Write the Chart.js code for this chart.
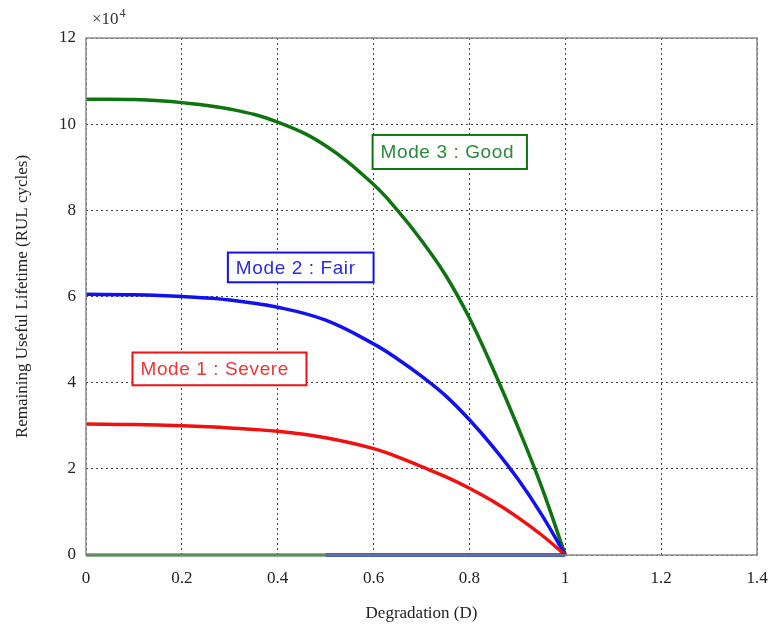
<!DOCTYPE html>
<html>
<head>
<meta charset="utf-8">
<script src="https://cdn.jsdelivr.net/npm/chart.js@4"></script>
<style>
  html, body { margin: 0; padding: 0; background: #fff; }
  #wrap { width: 773px; height: 634px; }
</style>
</head>
<body>
<div id="wrap"><canvas id="rulChart" width="773" height="634"></canvas></div>
<script>
// valores (RUL em unidades de 10^4 ciclos)
const degradation = [0, 0.1, 0.2, 0.3, 0.4, 0.5, 0.6, 0.65, 0.7, 0.75, 0.8, 0.85, 0.9, 0.95, 1.0];
const modeSevere = [3.04, 3.03, 3.0, 2.95, 2.87, 2.72, 2.47, 2.28, 2.05, 1.82, 1.55, 1.24, 0.88, 0.47, 0];
const modeFair   = [6.05, 6.04, 6.0, 5.92, 5.75, 5.45, 4.9, 4.55, 4.15, 3.7, 3.14, 2.5, 1.78, 0.95, 0];
const modeGood   = [10.58, 10.57, 10.5, 10.35, 10.05, 9.5, 8.6, 8.0, 7.3, 6.5, 5.5, 4.3, 3.0, 1.6, 0];
const xTicks = [0, 0.2, 0.4, 0.6, 0.8, 1, 1.2, 1.4];
const yTicks = [0, 2, 4, 6, 8, 10, 12];

const modeLabels = ["Mode 1 : Severe", "Mode 2 : Fair", "Mode 3 : Good"];
const modeColors = ["#f01010", "#1010f0", "#0f730f"];
const textColors = ["#e83838", "#2a2ae0", "#2a8a3a"];
// caixas dos rótulos (em coordenadas de dados: x0, x1, yTop, yBottom)
const labelBoxes = [
  [0.097, 0.46, 4.70, 3.94],
  [0.296, 0.60, 7.02, 6.33],
  [0.598, 0.92, 9.75, 8.96]
];

const pts = (xs, ys) => xs.map((x, i) => ({ x: x, y: ys[i] }));

const serif = "'Liberation Serif', 'Times New Roman', serif";

// rótulos com caixa + ×10^4 + moldura
const extras = {
  id: "extras",
  afterDatasetsDraw(chart) {
    const c = chart.ctx;
    const xs = chart.scales.x, ys = chart.scales.y;
    const a = chart.chartArea;

    // moldura
    c.save();
    c.strokeStyle = "#8a8a8a";
    c.lineWidth = 1.5;
    c.strokeRect(a.left, a.top, a.right - a.left, a.bottom - a.top);
    c.restore();

    labelBoxes.forEach((b, i) => {
      const x0 = xs.getPixelForValue(b[0]), x1 = xs.getPixelForValue(b[1]);
      const y0 = ys.getPixelForValue(b[2]), y1 = ys.getPixelForValue(b[3]);
      c.save();
      c.fillStyle = "#fff";
      c.fillRect(x0, y0, x1 - x0, y1 - y0);
      c.strokeStyle = modeColors[i];
      c.lineWidth = 2;
      c.strokeRect(x0, y0, x1 - x0, y1 - y0);
      c.fillStyle = textColors[i];
      c.font = "19px 'Liberation Sans', Arial, sans-serif";
      c.letterSpacing = "0.6px";
      c.textBaseline = "middle";
      c.fillText(modeLabels[i], x0 + 8, (y0 + y1) / 2 + 1);
      c.restore();
    });

    c.save();
    c.fillStyle = "#333";
    c.font = "17px " + serif;
    c.textBaseline = "alphabetic";
    c.fillText("\u00d710", a.left + 6, 24);
    const w = c.measureText("\u00d710").width;
    c.font = "12px " + serif;
    c.fillText("4", a.left + 6 + w + 1, 17);
    c.restore();
  }
};

new Chart(document.getElementById("rulChart"), {
  type: "scatter",
  data: {
    datasets: [
      { data: pts([0.5, 1.0], [0, 0]), borderColor: modeColors[1], borderWidth: 3, showLine: true, pointRadius: 0 },
      { data: pts([0, 1.0], [0, 0]), borderColor: modeColors[2], borderWidth: 3, showLine: true, pointRadius: 0 },
      { label: modeLabels[0], data: pts(degradation, modeSevere), borderColor: modeColors[0], borderWidth: 3.5, showLine: true, pointRadius: 0, tension: 0.4 },
      { label: modeLabels[1], data: pts(degradation, modeFair), borderColor: modeColors[1], borderWidth: 3.5, showLine: true, pointRadius: 0, tension: 0.4 },
      { label: modeLabels[2], data: pts(degradation, modeGood), borderColor: modeColors[2], borderWidth: 3.5, showLine: true, pointRadius: 0, tension: 0.4 }
    ]
  },
  options: {
    responsive: false,
    animation: false,
    clip: false,
    layout: { padding: { top: 38, right: 16, left: 8, bottom: 0 } },
    plugins: { legend: { display: false }, tooltip: { enabled: false } },
    scales: {
      x: {
        type: "linear",
        min: 0, max: 1.4,
        afterBuildTicks: s => { s.ticks = xTicks.map(v => ({ value: v })); },
        afterFit: s => { s.height = 79; s.paddingLeft = 0; s.paddingRight = 0; },
        grid: { color: "#444", lineWidth: 1, drawTicks: false },
        border: { display: false, dash: [2, 3] },
        ticks: { color: "#222", font: { family: serif, size: 17 }, padding: 13, maxRotation: 0, callback: v => String(+v) },
        title: { display: true, text: "Degradation (D)", color: "#222", font: { family: serif, size: 17 }, padding: { top: 0, bottom: 10 } }
      },
      y: {
        type: "linear",
        min: 0, max: 12,
        afterBuildTicks: s => { s.ticks = yTicks.map(v => ({ value: v })); },
        afterFit: s => { s.width = 78; s.paddingTop = 0; s.paddingBottom = 0; },
        grid: { color: "#444", lineWidth: 1, drawTicks: false },
        border: { display: false, dash: [2, 3] },
        ticks: { color: "#222", font: { family: serif, size: 17 }, padding: 10, callback: v => String(+v) },
        title: { display: true, text: "Remaining Useful Lifetime (RUL cycles)", color: "#222", font: { family: serif, size: 17 }, padding: { bottom: 6 } }
      }
    }
  },
  plugins: [extras]
});
</script>
</body>
</html>
